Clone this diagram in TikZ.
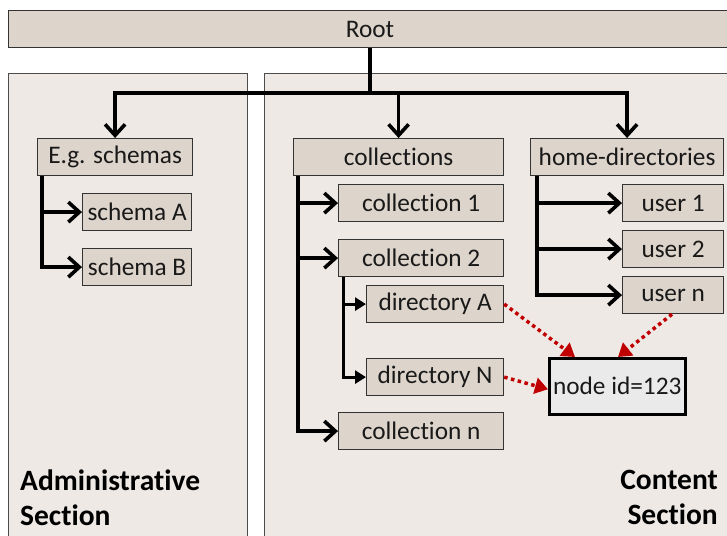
\documentclass[tikz,border=0pt]{standalone}
\usepackage{fontspec}
\setmainfont[Ligatures=NoCommon]{Carlito}
\usetikzlibrary{arrows.meta}
\definecolor{boxfill}{HTML}{DDD4CB}
\definecolor{panelfill}{HTML}{EEE9E5}
\definecolor{redarrow}{HTML}{C00000}
\definecolor{nodefill}{HTML}{EAEAEA}
\begin{document}
\begin{tikzpicture}[x=1pt,y=-1pt,
  box/.style={draw=black!80, line width=1.2pt, fill=boxfill, inner sep=0pt, anchor=north west,
    font=\fontsize{25.3}{28}\selectfont, text=black!90},
  panel/.style={draw=black!70, line width=1pt, fill=panelfill},
  tree/.style={line width=3.6pt, black},
  treearrow/.style={tree, -{Straight Barb[length=11pt,width=20pt,line width=3.6pt]}},
  subarrow/.style={line width=3pt, black, -{Triangle[length=11pt,width=13pt]}},
  refarrow/.style={line width=3.5pt, redarrow, dash pattern=on 3.5pt off 3.5pt,
    -{Triangle[length=13pt,width=16pt]}},
  seclabel/.style={font=\fontsize{29.5}{35}\selectfont\bfseries, inner sep=0pt}
]
\useasboundingbox (0,0) rectangle (727,535);
\clip (0,0) rectangle (727,535);
\fill[white] (0,0) rectangle (727,535);
% panels
\draw[panel] (8,73) rectangle (247,545);
\draw[panel] (264,73) rectangle (740,545);
% root
\node[box, minimum width=740pt, minimum height=37pt] (root) at (8,10) {};
\node[font=\fontsize{25.3}{28}\selectfont, text=black!90] (roottext) at (370,29) {Root};
\coordinate (hub) at (370,93);
% admin
\node[box, minimum width=155pt, minimum height=37pt] (egs) at (37,138) {E.g. schemas};
\node[box, minimum width=109pt, minimum height=37pt] (sa) at (82,193) {schema A};
\node[box, minimum width=109pt, minimum height=37pt] (sb) at (82,248) {schema B};
% collections
\node[box, minimum width=210pt, minimum height=37pt] (coll) at (293,138) {collections};
\node[box, minimum width=165pt, minimum height=37pt] (c1) at (338,184) {collection 1};
\node[box, minimum width=165pt, minimum height=37pt] (c2) at (338,239) {collection 2};
\node[box, minimum width=137pt, minimum height=37pt] (da) at (366,285) {directory A};
\node[box, minimum width=137pt, minimum height=37pt] (dn) at (366,358) {directory N};
\node[box, minimum width=165pt, minimum height=37pt] (cn) at (338,412) {collection n};
% home
\node[box, minimum width=193pt, minimum height=37pt] (home) at (530,138) {home-directories};
\node[box, minimum width=101pt, minimum height=37pt] (u1) at (622,184) {user 1};
\node[box, minimum width=101pt, minimum height=37pt] (u2) at (622,230) {user 2};
\node[box, minimum width=101pt, minimum height=37pt] (un) at (622,276) {user n};
% target node
\node[box, fill=nodefill, draw=black, line width=2.5pt, minimum width=136pt, minimum height=56pt] (nid) at (548,357) {node id=123};
% section labels
\node[seclabel, anchor=north west, align=left] (adm) at (20,470) {Administrative\\Section};
\node[seclabel, anchor=north east, align=right] (cont) at (718,470) {Content\\Section};
% root tree
\draw[tree] (root.south -| hub) -- (hub);
\draw[treearrow] (hub) -| (egs.north);
\draw[treearrow] (hub) -| (coll.north);
\draw[treearrow] (hub) -| (home.north);
% admin children
\draw[treearrow] ([xshift=5pt]egs.south west) |- (sa.west);
\draw[treearrow] ([xshift=5pt]egs.south west) |- (sb.west);
% collections children
\draw[treearrow] ([xshift=5pt]coll.south west) |- (c1.west);
\draw[treearrow] ([xshift=5pt]coll.south west) |- (c2.west);
\draw[treearrow] ([xshift=5pt]coll.south west) |- (cn.west);
\draw[subarrow] ([xshift=5pt]c2.south west) |- (da.west);
\draw[subarrow] ([xshift=5pt]c2.south west) |- (dn.west);
% home children
\draw[treearrow] ([xshift=7pt]home.south west) |- (u1.west);
\draw[treearrow] ([xshift=7pt]home.south west) |- (u2.west);
\draw[treearrow] ([xshift=7pt]home.south west) |- (un.west);
% references
\draw[refarrow] (da.east) -- ([xshift=27pt]nid.north west);
\draw[refarrow] ([xshift=50pt]un.south west) -- ([xshift=70pt]nid.north west);
\draw[refarrow] (dn.east) -- ([yshift=-3pt]nid.west);
\end{tikzpicture}
\end{document}
